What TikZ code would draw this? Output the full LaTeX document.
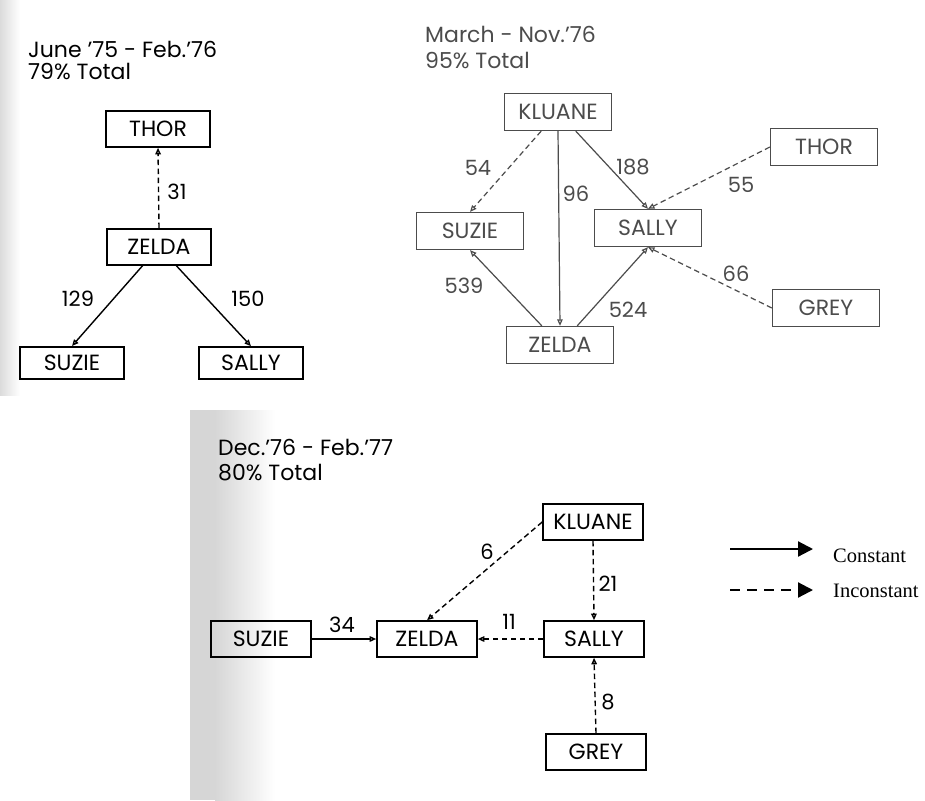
\documentclass[tikz,border=0pt]{standalone}
\usepackage{fontspec}
\setmainfont{Liberation Serif}
\newfontfamily\diagfont{Poppins}
\usetikzlibrary{arrows.meta}
\begin{document}
\begin{tikzpicture}[x=1pt,y=-1pt,
  box/.style={draw, line width=1.6pt, font=\diagfont\fontsize{22}{26}\selectfont, inner sep=1pt},
  boxa/.style={box, minimum width=104pt, minimum height=36pt},
  boxb/.style={box, draw=black!70, text=black!70, line width=1.3pt, minimum width=107pt, minimum height=37pt},
  boxc/.style={box, minimum width=100pt, minimum height=36pt},
  lbl/.style={font=\diagfont\fontsize{21}{25}\selectfont, inner sep=0pt},
  lblb/.style={lbl, text=black!70},
  ttl/.style={font=\diagfont\fontsize{22}{26}\selectfont, inner sep=0pt, anchor=base west},
  ttlb/.style={ttl, text=black!70},
  con/.style={line width=1.4pt, -{Triangle[open,length=6.5pt,width=5.5pt]}},
  incon/.style={con, dash pattern=on 5.5pt off 3.5pt},
  conb/.style={con, draw=black!70, line width=1.2pt},
  inconb/.style={incon, draw=black!70, line width=1.2pt},
  leg/.style={line width=2.2pt, -{Triangle[length=15pt,width=15pt]}},
  legd/.style={leg, dash pattern=on 10pt off 7pt},
  legtext/.style={font=\fontsize{20.5}{24}\selectfont, inner sep=0pt, anchor=base west}
]
\useasboundingbox (0,0) rectangle (925,800);
\fill[white] (0,0) rectangle (925,800);
\shade[left color=black!14, right color=white] (0,0) rectangle (20,395);
\fill[black!16] (190,410) rectangle (215,800);
\shade[left color=black!16, right color=white] (215,410) rectangle (275,800);

% ---------- Panel 1 ----------
\node[ttl] (t1a) at (28,57) {June ’75 - Feb.’76};
\node[ttl] (t1b) at (28,79) {79\% Total};
\node[boxa] (thor1) at (158,129) {THOR};
\node[boxa] (zelda1) at (159,247) {ZELDA};
\node[boxa, minimum height=32pt, line width=2pt] (suzie1) at (72,363) {SUZIE};
\node[boxa, minimum height=32pt] (sally1) at (251,363) {SALLY};
\draw[incon] (zelda1.north) -- (thor1.south);
\draw[con] (zelda1) -- (suzie1.north);
\draw[con] (zelda1) -- (sally1.north);
\node[lbl] (l31) at (177,192) {31};
\node[lbl] (l129) at (78,299) {129};
\node[lbl] (l150) at (248,299) {150};

% ---------- Panel 2 ----------
\node[ttlb] (t2a) at (425,42) {March - Nov.’76};
\node[ttlb] (t2b) at (425,68) {95\% Total};
\node[boxb] (kluane2) at (558,112) {KLUANE};
\node[boxb] (thor2) at (824,147) {THOR};
\node[boxb] (suzie2) at (470,231) {SUZIE};
\node[boxb] (sally2) at (648,228) {SALLY};
\node[boxb] (grey2) at (826,308) {GREY};
\node[boxb] (zelda2) at (560,345) {ZELDA};
\draw[inconb] (kluane2) -- (suzie2.north);
\draw[conb] (kluane2.south) -- (zelda2.north);
\draw[conb] (kluane2) -- (sally2.north);
\draw[inconb] (thor2.west) -- (sally2.north);
\draw[inconb] (grey2.west) -- (sally2.south);
\draw[conb] (zelda2) -- (suzie2.south);
\draw[conb] (zelda2) -- (sally2.south);
\node[lblb] (l54) at (478,168) {54};
\node[lblb] (l96) at (576,194) {96};
\node[lblb] (l188) at (633,167) {188};
\node[lblb] (l55) at (741,185) {55};
\node[lblb] (l66) at (736,274) {66};
\node[lblb] (l539) at (464,286) {539};
\node[lblb] (l524) at (628,310) {524};

% ---------- Panel 3 ----------
\node[ttl] (t3a) at (218,455) {Dec.’76 - Feb.’77};
\node[ttl] (t3b) at (218,480) {80\% Total};
\node[boxc] (kluane3) at (593,522) {KLUANE};
\node[boxc, line width=2pt] (suzie3) at (261,639) {SUZIE};
\node[boxc] (zelda3) at (427,639) {ZELDA};
\node[boxc] (sally3) at (594,639) {SALLY};
\node[boxc] (grey3) at (596,752) {GREY};
\draw[con] (suzie3.east) -- (zelda3.west);
\draw[incon] (sally3.west) -- (zelda3.east);
\draw[incon] (kluane3.west) -- (zelda3.north);
\draw[incon] (kluane3.south) -- (sally3.north);
\draw[incon] (grey3.north) -- (sally3.south);
\node[lbl] (l34) at (342,625) {34};
\node[lbl] (l11) at (509,622) {11};
\node[lbl] (l6) at (487,552) {6};
\node[lbl] (l21) at (608,584) {21};
\node[lbl] (l8) at (608,702) {8};

% ---------- Legend ----------
\coordinate (ca) at (730,549);
\coordinate (cb) at (813,549);
\draw[leg] (ca) -- (cb);
\node[legtext] (lc) at (833,562) {Constant};
\coordinate (ia) at (730,590);
\coordinate (ib) at (813,590);
\draw[legd] (ia) -- (ib);
\node[legtext] (li) at (833,597) {Inconstant};
\end{tikzpicture}
\end{document}
